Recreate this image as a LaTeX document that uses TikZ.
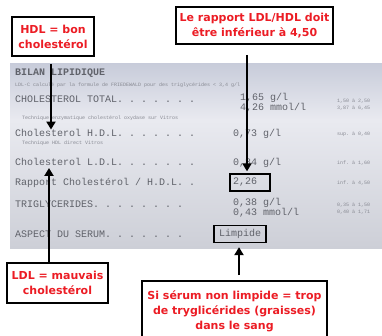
\documentclass[tikz,border=0pt]{standalone}
\usepackage{fontspec}
\setmainfont{DejaVu Sans}
\setmonofont{Liberation Mono}
\usetikzlibrary{arrows.meta}
\definecolor{notered}{RGB}{236,28,36}
\definecolor{scanink}{RGB}{96,98,106}
\definecolor{scanpale}{RGB}{135,137,146}
\definecolor{sheettop}{RGB}{200,204,218}
\definecolor{sheetmid}{RGB}{233,234,240}
\definecolor{sheetbot}{RGB}{205,207,215}
\begin{document}
\begin{tikzpicture}[x=1pt, y=-1pt,
		note/.style={draw, line width=1.8pt, fill=white, text=notered, align=center,
			font=\bfseries\fontsize{11}{15}\selectfont},
		row/.style={anchor=base west, inner sep=0pt, text=scanink, font=\ttfamily\fontsize{10}{10}\selectfont},
		rowb/.style={row, font=\ttfamily\bfseries\fontsize{10}{10}\selectfont},
		pair/.style={row, align=left, font=\ttfamily\fontsize{10}{8}\selectfont},
		small/.style={anchor=base west, inner sep=0pt, text=scanpale, align=left, font=\ttfamily\fontsize{5}{7.5}\selectfont},
		valbox/.style={row, anchor=center, draw=black, line width=1.3pt, inner xsep=3pt, minimum height=17pt},
		pointer/.style={line width=2.2pt, -{Triangle[length=8pt, width=9pt]}}]
		\useasboundingbox (0,0) rectangle (382,336);
		\fill[white] (0,0) rectangle (382,336);
		\shade[top color=sheettop, bottom color=sheetmid] (10,64) rectangle (382,120);
		\shade[top color=sheetmid, bottom color=sheetbot] (10,120) rectangle (382,248);

		% the scanned sheet
		\node[rowb] (title) at (15, 76) {BILAN LIPIDIQUE};
		\node[small] (n1) at (15, 87) {LDL-C calculé par la formule de FRIEDEWALD pour des triglycérides < 3,4 g/l};
		\node[row] (ct) at (15, 103) {CHOLESTEROL TOTAL. . . . . . .};
		\node[pair] (ctval) at (240, 111) {1,65 g/l\\4,26 mmol/l};
		\node[small] (ctr) at (337, 110) {1,50 à 2,50\\3,87 à 6,45};
		\node[small] (n2) at (22, 120) {Technique enzymatique cholestérol oxydase sur Vitros};
		\node[row] (hdlrow) at (15, 137) {Cholesterol H.D.L. . . . . . .};
		\node[row] (hdlg) at (233, 137) {0,73 g/l};
		\node[small] (hdlr) at (337, 136) {sup. à 0,40};
		\node[small] (n3) at (22, 145) {Technique HDL direct Vitros};
		\node[row] (ldlrow) at (15, 166) {Cholesterol L.D.L. . . . . . .};
		\node[row] (ldlg) at (233, 166) {0,84 g/l};
		\node[small] (ldlr) at (337, 165) {inf. à 1,60};
		\node[row] (ratiorow) at (15, 186) {Rapport Cholestérol / H.D.L. .};
		\node[valbox, text width=34pt, align=left] (ratioval) at (250, 182.5) {2,26};
		\node[small] (ratior) at (337, 185) {inf. à 4,50};
		\node[row] (tgrow) at (15, 208) {TRIGLYCERIDES. . . . . . . .};
		\node[pair] (tgval) at (233, 216) {0,38 g/l\\0,43 mmol/l};
		\node[small] (tgr) at (337, 214) {0,35 à 1,50\\0,40 à 1,71};
		\node[row] (serumrow) at (15, 238) {ASPECT DU SERUM. . . . . . .};
		\node[valbox, minimum width=52pt] (serumval) at (240, 234) {Limpide};

		% notes
		\node[note, minimum width=82pt, minimum height=39pt] (hdl) at (53, 36.5) {HDL = bon\\cholestérol};
		\node[note, minimum width=153pt, minimum height=37pt] (ratio) at (254.5, 25.5) {Le rapport LDL/HDL doit\\être inférieur à 4,50};
		\node[note, minimum width=101pt, minimum height=40pt] (ldl) at (57.5, 283) {LDL = mauvais\\cholestérol};
		\node[note, minimum width=185pt, minimum height=60pt] (serum) at (234.5, 311) {Si sérum non limpide = trop\\de tryglicérides (graisses)\\dans le sang};

		\path ([xshift=-2pt]hdl.south) edge[pointer, shorten <=7pt] ([xshift=-2pt]hdl.south |- hdlrow.north)
		([xshift=-7.5pt]ratio.south) edge[pointer, shorten <=10pt, shorten >=2pt] ([xshift=-7.5pt]ratio.south |- ratioval.north)
		([xshift=-8.5pt]ldl.north) edge[pointer, shorten >=2pt] ([xshift=-8.5pt]ldl.north |- ldlrow.base)
		([xshift=4.5pt]serum.north) edge[pointer, shorten <=5pt, shorten >=4pt] ([xshift=4.5pt]serum.north |- serumval.south);
	\end{tikzpicture}
\end{document}
